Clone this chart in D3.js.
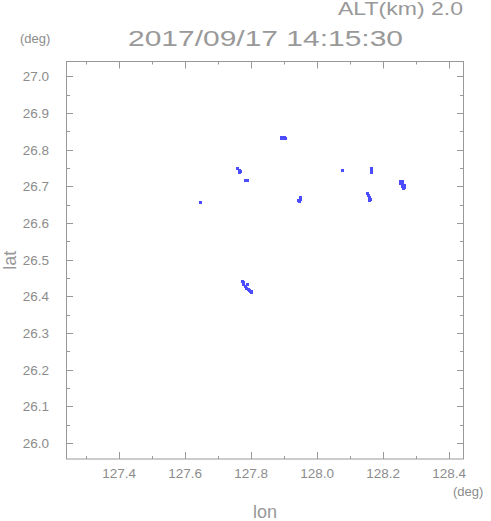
<!DOCTYPE html>
<html>
<head>
<meta charset="utf-8">
<script src="https://cdn.jsdelivr.net/npm/d3@7"></script>
<style>
  body { margin: 0; background: #fff; }
  text { font-family: "Liberation Sans", "DejaVu Sans", sans-serif; fill: #8c8c8c; }
</style>
</head>
<body>
<div id="chart"></div>
<script>
// echo points (lon, lat)
var echoLon = [127.8915, 127.8976, 127.9036, 127.8915, 127.9006,
               127.7580, 127.7625, 127.7625, 127.7672, 127.7800, 127.7860,
               127.6457,
               127.9492, 127.9492, 127.9431, 127.9461,
               128.0766,
               128.1631, 128.1631, 128.1631,
               128.2496, 128.2557, 128.2496, 128.2557, 128.2618, 128.2557, 128.2618, 128.2587,
               128.1525, 128.1556, 128.1586, 128.1616, 128.1586,
               127.7732, 127.7762, 127.7762, 127.7883,
               127.7807, 127.7853, 127.7898, 127.7944, 127.7974, 127.8005, 127.7990];
var echoLat = [26.8308, 26.8308, 26.8308, 26.8335, 26.8335,
               26.7490, 26.7436, 26.7382, 26.7410, 26.7177, 26.7177,
               26.6563,
               26.6700, 26.6646, 26.6632, 26.6591,
               26.7436,
               26.7490, 26.7436, 26.7395,
               26.7136, 26.7136, 26.7082, 26.7082, 26.7027, 26.7000, 26.6973, 26.6945,
               26.6809, 26.6755, 26.6700, 26.6645, 26.6618,
               26.4410, 26.4380, 26.4327, 26.4327,
               26.4272, 26.4231, 26.4190, 26.4163, 26.4136, 26.4109, 26.4150];

var lonTicks = [127.4, 127.6, 127.8, 128.0, 128.2, 128.4];
var lonMinor = [127.3, 127.5, 127.7, 127.9, 128.1, 128.3];
var latTicks = [26.0, 26.1, 26.2, 26.3, 26.4, 26.5, 26.6, 26.7, 26.8, 26.9, 27.0];
var latMinor = [25.95, 26.05, 26.15, 26.25, 26.35, 26.45, 26.55, 26.65, 26.75, 26.85, 26.95, 27.05];

var titleText = "2017/09/17 14:15:30";
var altText = "ALT(km) 2.0";

function init(){
	var W = 491, H = 521;
	var left = 66, right = 464, top = 61.5, bottom = 459;
	var axisColor = "#999";

	var x = d3.scaleLinear().domain([127.239, 128.445]).range([left, right]);
	var y = d3.scaleLinear().domain([25.956, 27.04]).range([bottom, top]);

	var svg = d3.select("#chart").append("svg")
		.attr("width", W).attr("height", H);

	// frame
	svg.append("rect")
		.attr("x", left + 0.5).attr("y", top)
		.attr("width", right - left - 1).attr("height", bottom - top)
		.attr("fill", "none").attr("stroke", axisColor).attr("stroke-width", 1);

	// ticks on all four sides, pointing inward
	var ticks = svg.append("g").attr("stroke", axisColor).attr("stroke-width", 1);
	function xTicks(vals, len){
		vals.filter(function(v){ return v >= x.domain()[0] && v <= x.domain()[1]; })
			.forEach(function(v){
				var px = Math.round(x(v)) + 0.5;
				ticks.append("line").attr("x1", px).attr("x2", px).attr("y1", bottom).attr("y2", bottom - len);
				ticks.append("line").attr("x1", px).attr("x2", px).attr("y1", top).attr("y2", top + len);
			});
	}
	function yTicks(vals, len){
		vals.filter(function(v){ return v >= y.domain()[0] && v <= y.domain()[1]; })
			.forEach(function(v){
				var py = Math.round(y(v)) + 0.5;
				ticks.append("line").attr("x1", left).attr("x2", left + len).attr("y1", py).attr("y2", py);
				ticks.append("line").attr("x1", right).attr("x2", right - len).attr("y1", py).attr("y2", py);
			});
	}
	xTicks(lonTicks, 7);
	xTicks(lonMinor, 3);
	yTicks(latTicks, 7);
	yTicks(latMinor, 4);

	// tick labels
	svg.append("g").selectAll("text")
		.data(lonTicks).enter().append("text")
		.attr("x", function(d){ return x(d); })
		.attr("y", 478)
		.attr("text-anchor", "middle")
		.style("font-size", "13.5px")
		.text(function(d){ return d.toFixed(1); });

	svg.append("g").selectAll("text")
		.data(latTicks).enter().append("text")
		.attr("x", 49)
		.attr("y", function(d){ return y(d) + 5; })
		.attr("text-anchor", "end")
		.style("font-size", "13.5px")
		.text(function(d){ return d.toFixed(1); });

	// echoes
	svg.append("g").selectAll("rect")
		.data(echoLon.map(function(d, i){ return [d, echoLat[i]]; }))
		.enter().append("rect")
		.attr("x", function(d){ return Math.round(x(d[0])) - 1; })
		.attr("y", function(d){ return Math.round(y(d[1])) - 1; })
		.attr("width", 3).attr("height", 3)
		.attr("fill", "#4b4bff");

	// titles and units
	svg.append("text").attr("x", 128).attr("y", 46)
		.attr("textLength", 275).attr("lengthAdjust", "spacingAndGlyphs")
		.style("font-size", "22px").style("fill", "#999").text(titleText);
	svg.append("text").attr("x", 338).attr("y", 15)
		.attr("textLength", 125).attr("lengthAdjust", "spacingAndGlyphs")
		.style("font-size", "18px").style("fill", "#999").text(altText);
	svg.append("text").attr("x", 20).attr("y", 43)
		.style("font-size", "13px").text("(deg)");
	svg.append("text").attr("x", 453).attr("y", 496)
		.style("font-size", "13px").text("(deg)");
	svg.append("text").attr("x", 265).attr("y", 518)
		.attr("text-anchor", "middle")
		.style("font-size", "18px").style("fill", "#999").text("lon");
	svg.append("text")
		.attr("transform", "translate(16," + ((top + bottom) / 2) + ") rotate(-90)")
		.attr("text-anchor", "middle")
		.style("font-size", "18px").style("fill", "#999").text("lat");
}

window.onload = init;
</script>
</body>
</html>
